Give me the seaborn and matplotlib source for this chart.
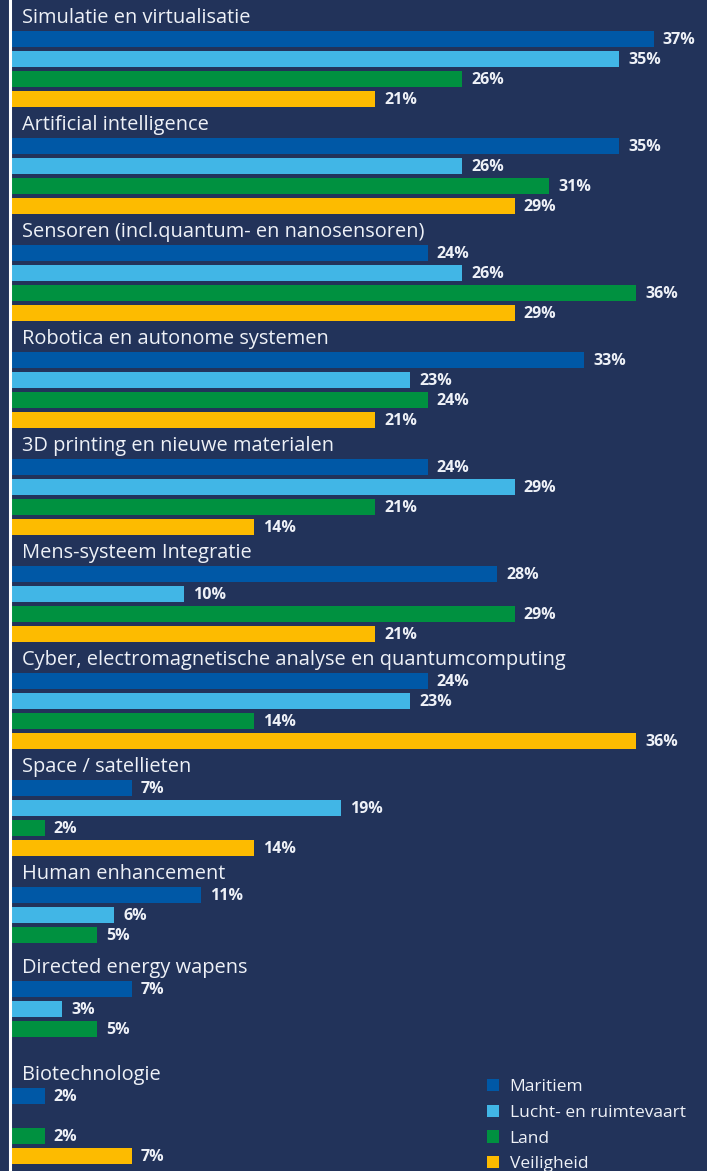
import matplotlib
matplotlib.use("Agg")
import matplotlib.pyplot as plt
import matplotlib.transforms as mtransforms
from matplotlib.patches import Patch
import pandas as pd
import seaborn as sns

# Data (percentages per domain, None = no bar)
categories = [
    "Simulatie en virtualisatie",
    "Artificial intelligence",
    "Sensoren (incl.quantum- en nanosensoren)",
    "Robotica en autonome systemen",
    "3D printing en nieuwe materialen",
    "Mens-systeem Integratie",
    "Cyber, electromagnetische analyse en quantumcomputing",
    "Space / satellieten",
    "Human enhancement",
    "Directed energy wapens",
    "Biotechnologie",
]
series = ["Maritiem", "Lucht- en ruimtevaart", "Land", "Veiligheid"]
maritiem = [37, 35, 24, 33, 24, 28, 24, 7, 11, 7, 2]
lucht = [35, 26, 26, 23, 29, 10, 23, 19, 6, 3, None]
land = [26, 31, 36, 24, 21, 29, 14, 2, 5, 5, 2]
veiligheid = [21, 29, 29, 21, 14, 21, 36, 14, None, None, 7]
# number of bar rows reserved per group
slots = [4, 4, 4, 4, 4, 4, 4, 4, 3, 4, 4]

colors = ["#0058a6", "#41b6e6", "#009140", "#fdbb00"]
bg = "#22335a"
txt = "#eef1f7"

# Layout in pixel units (y axis runs 0..1171 top-down)
W, H = 707, 1171
first_bar = 39
pitch = 20
group_gap = 27
label_up = 22
px_per_pct = 17.4

rows = []
label_pos = []
y0 = first_bar
all_vals = [maritiem, lucht, land, veiligheid]
for i, cat in enumerate(categories):
    label_pos.append(y0 - label_up)
    for s in range(slots[i]):
        v = all_vals[s][i]
        if v is not None:
            rows.append({"cat": cat, "series": series[s], "value": v, "pos": y0 + s * pitch})
    y0 += slots[i] * pitch + group_gap
    if slots[i] < 4:
        y0 += 7  # short group still keeps a little extra room
df = pd.DataFrame(rows)

fig = plt.figure(figsize=(W / 100, H / 100), dpi=100, facecolor=bg)
ax = fig.add_axes([10 / W, 0, (W - 10) / W, 1])
ax.set_facecolor(bg)

sns.barplot(data=df, x="value", y="pos", hue="series", hue_order=series,
            palette=colors, saturation=1, orient="y", native_scale=True, dodge=False,
            width=0.76, errorbar=None, legend=False, ax=ax,
            edgecolor="none", linewidth=0)

ax.set_xlim(0, (W - 10) / px_per_pct)
ax.set_ylim(H, 0)
ax.set_xlabel("")
ax.set_ylabel("")
ax.set_xticks([])
ax.set_yticks([])
for sp in ["top", "right", "bottom"]:
    ax.spines[sp].set_visible(False)
ax.spines["left"].set_color("white")
ax.spines["left"].set_linewidth(2.2)

font = ["Open Sans", "DejaVu Sans"]

# category titles
for cat, yp in zip(categories, label_pos):
    ax.text(12 / px_per_pct, yp + 1, cat, color=txt, fontsize=14.4, family=font,
            va="center", ha="left")

# value labels
off = mtransforms.offset_copy(ax.transData, fig=fig, x=9, y=0, units="dots")
for _, r in df.iterrows():
    ax.text(r["value"], r["pos"] + 1, f"{r['value']}%", color=txt, fontsize=11.5,
            fontweight="bold", family=font, va="center", ha="left", transform=off)

handles = [Patch(facecolor=c, edgecolor="none") for c in colors]
leg = fig.legend(handles, series, loc="upper left",
                 bbox_to_anchor=(487 / W, 1 - 1079 / H), bbox_transform=fig.transFigure,
                 frameon=False, fontsize=12.5, handlelength=0.7, handleheight=0.7,
                 handletextpad=0.6, labelspacing=0.55, borderaxespad=0, borderpad=0)
for t in leg.get_texts():
    t.set_color(txt)
    t.set_family(font)

fig.savefig("out.png", dpi=100, facecolor=bg)
